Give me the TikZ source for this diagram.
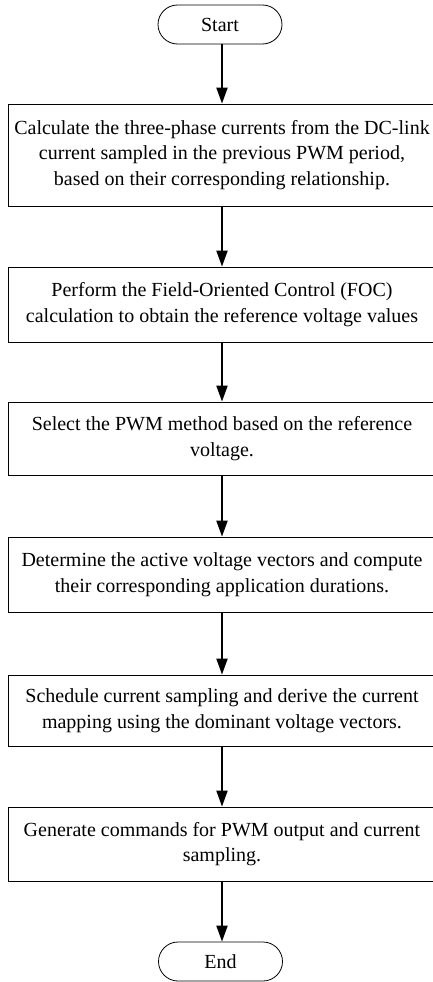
\documentclass[tikz,border=0pt]{standalone}
\usepackage{fontspec}
\setmainfont{Liberation Serif}
\usetikzlibrary{arrows.meta,shapes.misc}
\begin{document}
\begin{tikzpicture}[x=1pt,y=-1pt,
  every node/.style={font=\fontsize{20}{25.5}\selectfont},
  terminal/.style={draw,line width=0.8pt,rounded rectangle,minimum width=124pt,minimum height=39pt,inner sep=0pt},
  procbox/.style={draw,line width=0.8pt,rectangle,minimum width=428pt,align=center,inner sep=0pt},
  flow/.style={line width=2pt,-{Triangle[length=16pt,width=11pt]}}]
  \useasboundingbox (0,0) rectangle (433,982);
  \clip (0,0) rectangle (433,982);

  \node[terminal] (start) at (220,24.5) {Start};
  \node[procbox,minimum height=102pt] (s1) at (222,155)
    {Calculate the three-phase currents from the DC-link\\current sampled in the previous PWM period,\\based on their corresponding relationship.};
  \node[procbox,minimum height=75pt] (s2) at (222,304.5)
    {Perform the Field-Oriented Control (FOC)\\calculation to obtain the reference voltage values};
  \node[procbox,minimum height=73pt] (s3) at (222,438.5)
    {Select the PWM method based on the reference\\voltage.};
  \node[procbox,minimum height=75pt] (s4) at (222,574.5)
    {Determine the active voltage vectors and compute\\their corresponding application durations.};
  \node[procbox,minimum height=71pt] (s5) at (222,710.5)
    {Schedule current sampling and derive the current\\mapping using the dominant voltage vectors.};
  \node[procbox,minimum height=74pt] (s6) at (222,844)
    {Generate commands for PWM output and current\\sampling.};
  \node[terminal] (end) at (220.5,961.5) {End};

  \draw[flow] (start.south -| s1.north) -- (s1.north);
  \draw[flow] (s1) -- (s2);
  \draw[flow] (s2) -- (s3);
  \draw[flow] (s3) -- (s4);
  \draw[flow] (s4) -- (s5);
  \draw[flow] (s5) -- (s6);
  \draw[flow] (s6.south) -- (s6.south |- end.north);
\end{tikzpicture}
\end{document}
